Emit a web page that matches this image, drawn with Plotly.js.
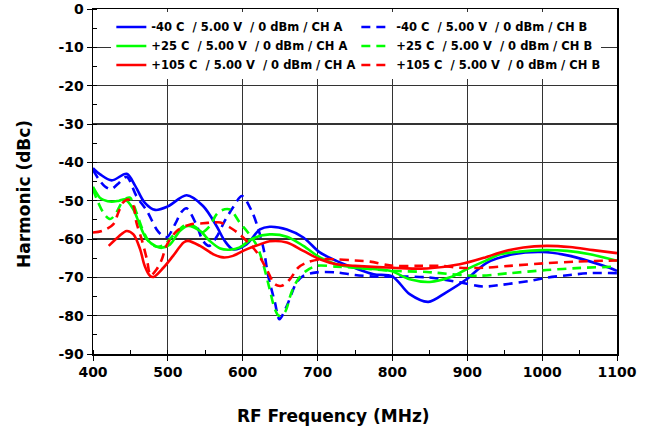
<!DOCTYPE html>
<html>
<head>
<meta charset="utf-8">
<script src="https://cdn.plot.ly/plotly-3.0.1.min.js"></script>
<style>html,body{margin:0;padding:0;background:#fff;}#chart{width:654px;height:432px;}</style>
</head>
<body>
<div id="chart"></div>
<script>
// -40 C, CH A (solid blue)
const blueA_x = [400,410,425,445,456,469,483,500,525,547,565,576,587,605,623,636,659,681,703,725,750,775,800,823,848,872,899,926,961,1000,1037,1082,1100];
const blueA_y = [-41.5,-43.2,-44.7,-43.0,-46.0,-50.5,-52.4,-51.5,-48.6,-51.4,-56.6,-60.5,-62.7,-61.4,-57.5,-56.8,-57.5,-59.6,-63.5,-65.7,-67.6,-69.2,-69.8,-74.4,-76.4,-73.9,-70.5,-66.2,-64.0,-63.4,-64.4,-67.0,-68.3];
// -40 C, CH B (dashed blue)
const blueB_x = [400,408,416,424,434,445,458,472,485,492,499,510,518,525,538,547,555,565,576,587,599,612,621,628,634,643,649,659,672,681,699,725,750,779,801,846,890,921,944,984,1006,1037,1064,1100];
const blueB_y = [-42.0,-44.5,-46.3,-47.0,-45.5,-43.8,-48.8,-52.7,-57.5,-59.0,-59.5,-56.0,-53.0,-52.0,-56.2,-60.5,-61.8,-59.5,-55.3,-51.8,-48.8,-52.7,-57.5,-62.7,-69.6,-76.5,-80.9,-77.4,-71.3,-69.6,-68.7,-68.7,-69.4,-69.8,-69.8,-70.0,-71.3,-72.4,-72.0,-70.9,-70.1,-69.4,-68.9,-68.9];
// +25 C, CH A (solid green)
const greenA_x = [400,409,414,425,435,443,454,463,472,485,492,503,516,527,543,556,570,583,596,614,636,659,681,703,725,750,797,823,850,877,899,924,944,970,999,1033,1064,1100];
const greenA_y = [-46.4,-49.2,-49.8,-50.3,-50.0,-49.7,-52.3,-56.6,-60.1,-62.0,-62.3,-61.4,-57.9,-56.6,-57.9,-60.5,-62.5,-62.8,-62.2,-59.8,-58.8,-59.4,-61.8,-64.8,-66.6,-67.5,-68.3,-70.5,-71.2,-70.0,-67.9,-65.7,-64.0,-63.3,-62.9,-63.1,-64.0,-65.7];
// +25 C, CH B (dashed green)
const greenB_x = [400,407,415,423,430,440,449,458,467,476,485,495,505,512,521,530,538,545,556,565,572,583,596,607,619,628,636,643,648,656,665,674,685,699,725,750,801,846,864,913,957,1006,1046,1100];
const greenB_y = [-47.0,-50.5,-53.5,-54.8,-53.5,-50.1,-49.2,-53.1,-57.9,-61.0,-62.0,-61.5,-59.5,-58.3,-56.6,-56.2,-57.0,-58.3,-56.6,-53.6,-52.5,-52.3,-55.7,-58.3,-61.8,-67.0,-73.1,-78.3,-80.0,-79.2,-74.0,-70.5,-68.3,-67.0,-67.2,-67.5,-68.3,-68.6,-68.9,-69.6,-68.9,-68.1,-67.6,-67.2];
// +105 C, CH A (solid red)
const redA_x = [421,434,445,454,463,469,476,481,494,507,521,527,543,561,574,587,605,623,636,659,681,703,725,750,801,846,890,924,944,975,1006,1037,1068,1100];
const redA_y = [-61.8,-59.4,-57.9,-58.8,-62.7,-67.0,-69.6,-69.9,-67.5,-64.4,-60.9,-60.5,-61.8,-64.0,-64.8,-64.4,-62.7,-61.4,-60.6,-60.9,-63.1,-65.3,-66.6,-67.0,-67.5,-67.7,-66.6,-64.8,-63.5,-62.2,-61.8,-62.1,-62.9,-63.7];
// +105 C, CH B (dashed red)
const redB_x = [400,412,427,434,440,447,454,458,465,472,477,485,492,498,512,530,547,561,570,583,596,607,619,632,643,652,663,674,685,703,725,750,770,801,832,864,890,921,957,1006,1046,1100];
const redB_y = [-58.3,-57.9,-56.2,-53.0,-50.5,-49.7,-51.4,-55.7,-60.1,-65.3,-69.5,-67.9,-65.3,-61.8,-57.9,-56.2,-55.9,-55.7,-55.7,-57.0,-58.8,-60.9,-63.5,-67.9,-71.8,-72.2,-70.5,-67.5,-66.2,-65.3,-65.3,-65.6,-65.9,-67.0,-67.0,-67.0,-67.5,-67.5,-67.0,-66.3,-65.9,-65.6];

const names = [
  "-40 C  / 5.00 V  / 0 dBm / CH A",
  "-40 C  / 5.00 V  / 0 dBm / CH B",
  "+25 C  / 5.00 V  / 0 dBm / CH A",
  "+25 C  / 5.00 V  / 0 dBm / CH B",
  "+105 C  / 5.00 V  / 0 dBm / CH A",
  "+105 C  / 5.00 V  / 0 dBm / CH B"
];
const xTickVals = [400,500,600,700,800,900,1000,1100];
const yTickVals = [0,-10,-20,-30,-40,-50,-60,-70,-80,-90];

const FONT = "DejaVu Sans, Verdana, sans-serif";
const DASH = "9px,6px";
function tr(x, y, name, color, dashed) {
  return {x: x, y: y, name: name, type: "scatter", mode: "lines",
    line: {color: color, width: 2.6, shape: "spline", smoothing: 0.9, dash: dashed ? DASH : "solid"}};
}
const data = [
  tr(blueA_x, blueA_y, names[0], "#0000ff", false),
  tr(blueB_x, blueB_y, names[1], "#0000ff", true),
  tr(greenA_x, greenA_y, names[2], "#00ff00", false),
  tr(greenB_x, greenB_y, names[3], "#00ff00", true),
  tr(redA_x, redA_y, names[4], "#ff0000", false),
  tr(redB_x, redB_y, names[5], "#ff0000", true)
];

const tickfont = {family: FONT, size: 14, weight: "bold", color: "#000"};
const layout = {
  width: 654, height: 432,
  margin: {l: 93, r: 37, t: 9, b: 78},
  paper_bgcolor: "#fff", plot_bgcolor: "#fff",
  showlegend: true,
  legend: {
    orientation: "h", x: 0.035, y: 0.99, xanchor: "left", yanchor: "top",
    bgcolor: "#fff", borderwidth: 0, entrywidth: 200, entrywidthmode: "pixels",
    itemwidth: 30,
    font: {family: FONT, size: 11.5, weight: "bold", color: "#000"},
    traceorder: "normal"
  },
  xaxis: {
    range: [400, 1100], tickvals: xTickVals, ticktext: xTickVals.map(String),
    showgrid: true, gridcolor: "#333", gridwidth: 1.2, zeroline: false,
    showline: true, linecolor: "#000", linewidth: 1.5, mirror: true,
    ticks: "outside", ticklen: 5, tickcolor: "#000", tickwidth: 1,
    minor: {dtick: 50, tick0: 400, ticks: "inside", ticklen: 4, tickcolor: "#000", showgrid: false},
    tickfont: tickfont, fixedrange: true
  },
  yaxis: {
    range: [-90, 0], tickvals: yTickVals, ticktext: yTickVals.map(String),
    showgrid: true, gridcolor: "#333", gridwidth: 1.2, zeroline: false,
    showline: true, linecolor: "#000", linewidth: 1.5, mirror: true,
    ticks: "outside", ticklen: 5, tickcolor: "#000", tickwidth: 1,
    minor: {dtick: 5, tick0: 0, ticks: "inside", ticklen: 4, tickcolor: "#000", showgrid: false},
    tickfont: tickfont, fixedrange: true
  },
  annotations: [
    {text: "RF Frequency (MHz)", xref: "paper", yref: "paper", x: (333 - 93) / 524, y: (354 - 416) / 345,
     xanchor: "center", yanchor: "middle", showarrow: false,
     font: {family: FONT, size: 17, weight: "bold", color: "#000"}},
    {text: "Harmonic (dBc)", xref: "paper", yref: "paper", x: (24 - 93) / 524, y: (354 - 194) / 345,
     xanchor: "center", yanchor: "middle", showarrow: false, textangle: -90,
     font: {family: FONT, size: 17, weight: "bold", color: "#000"}}
  ]
};
Plotly.newPlot("chart", data, layout, {displayModeBar: false, staticPlot: true});
</script>
</body>
</html>
